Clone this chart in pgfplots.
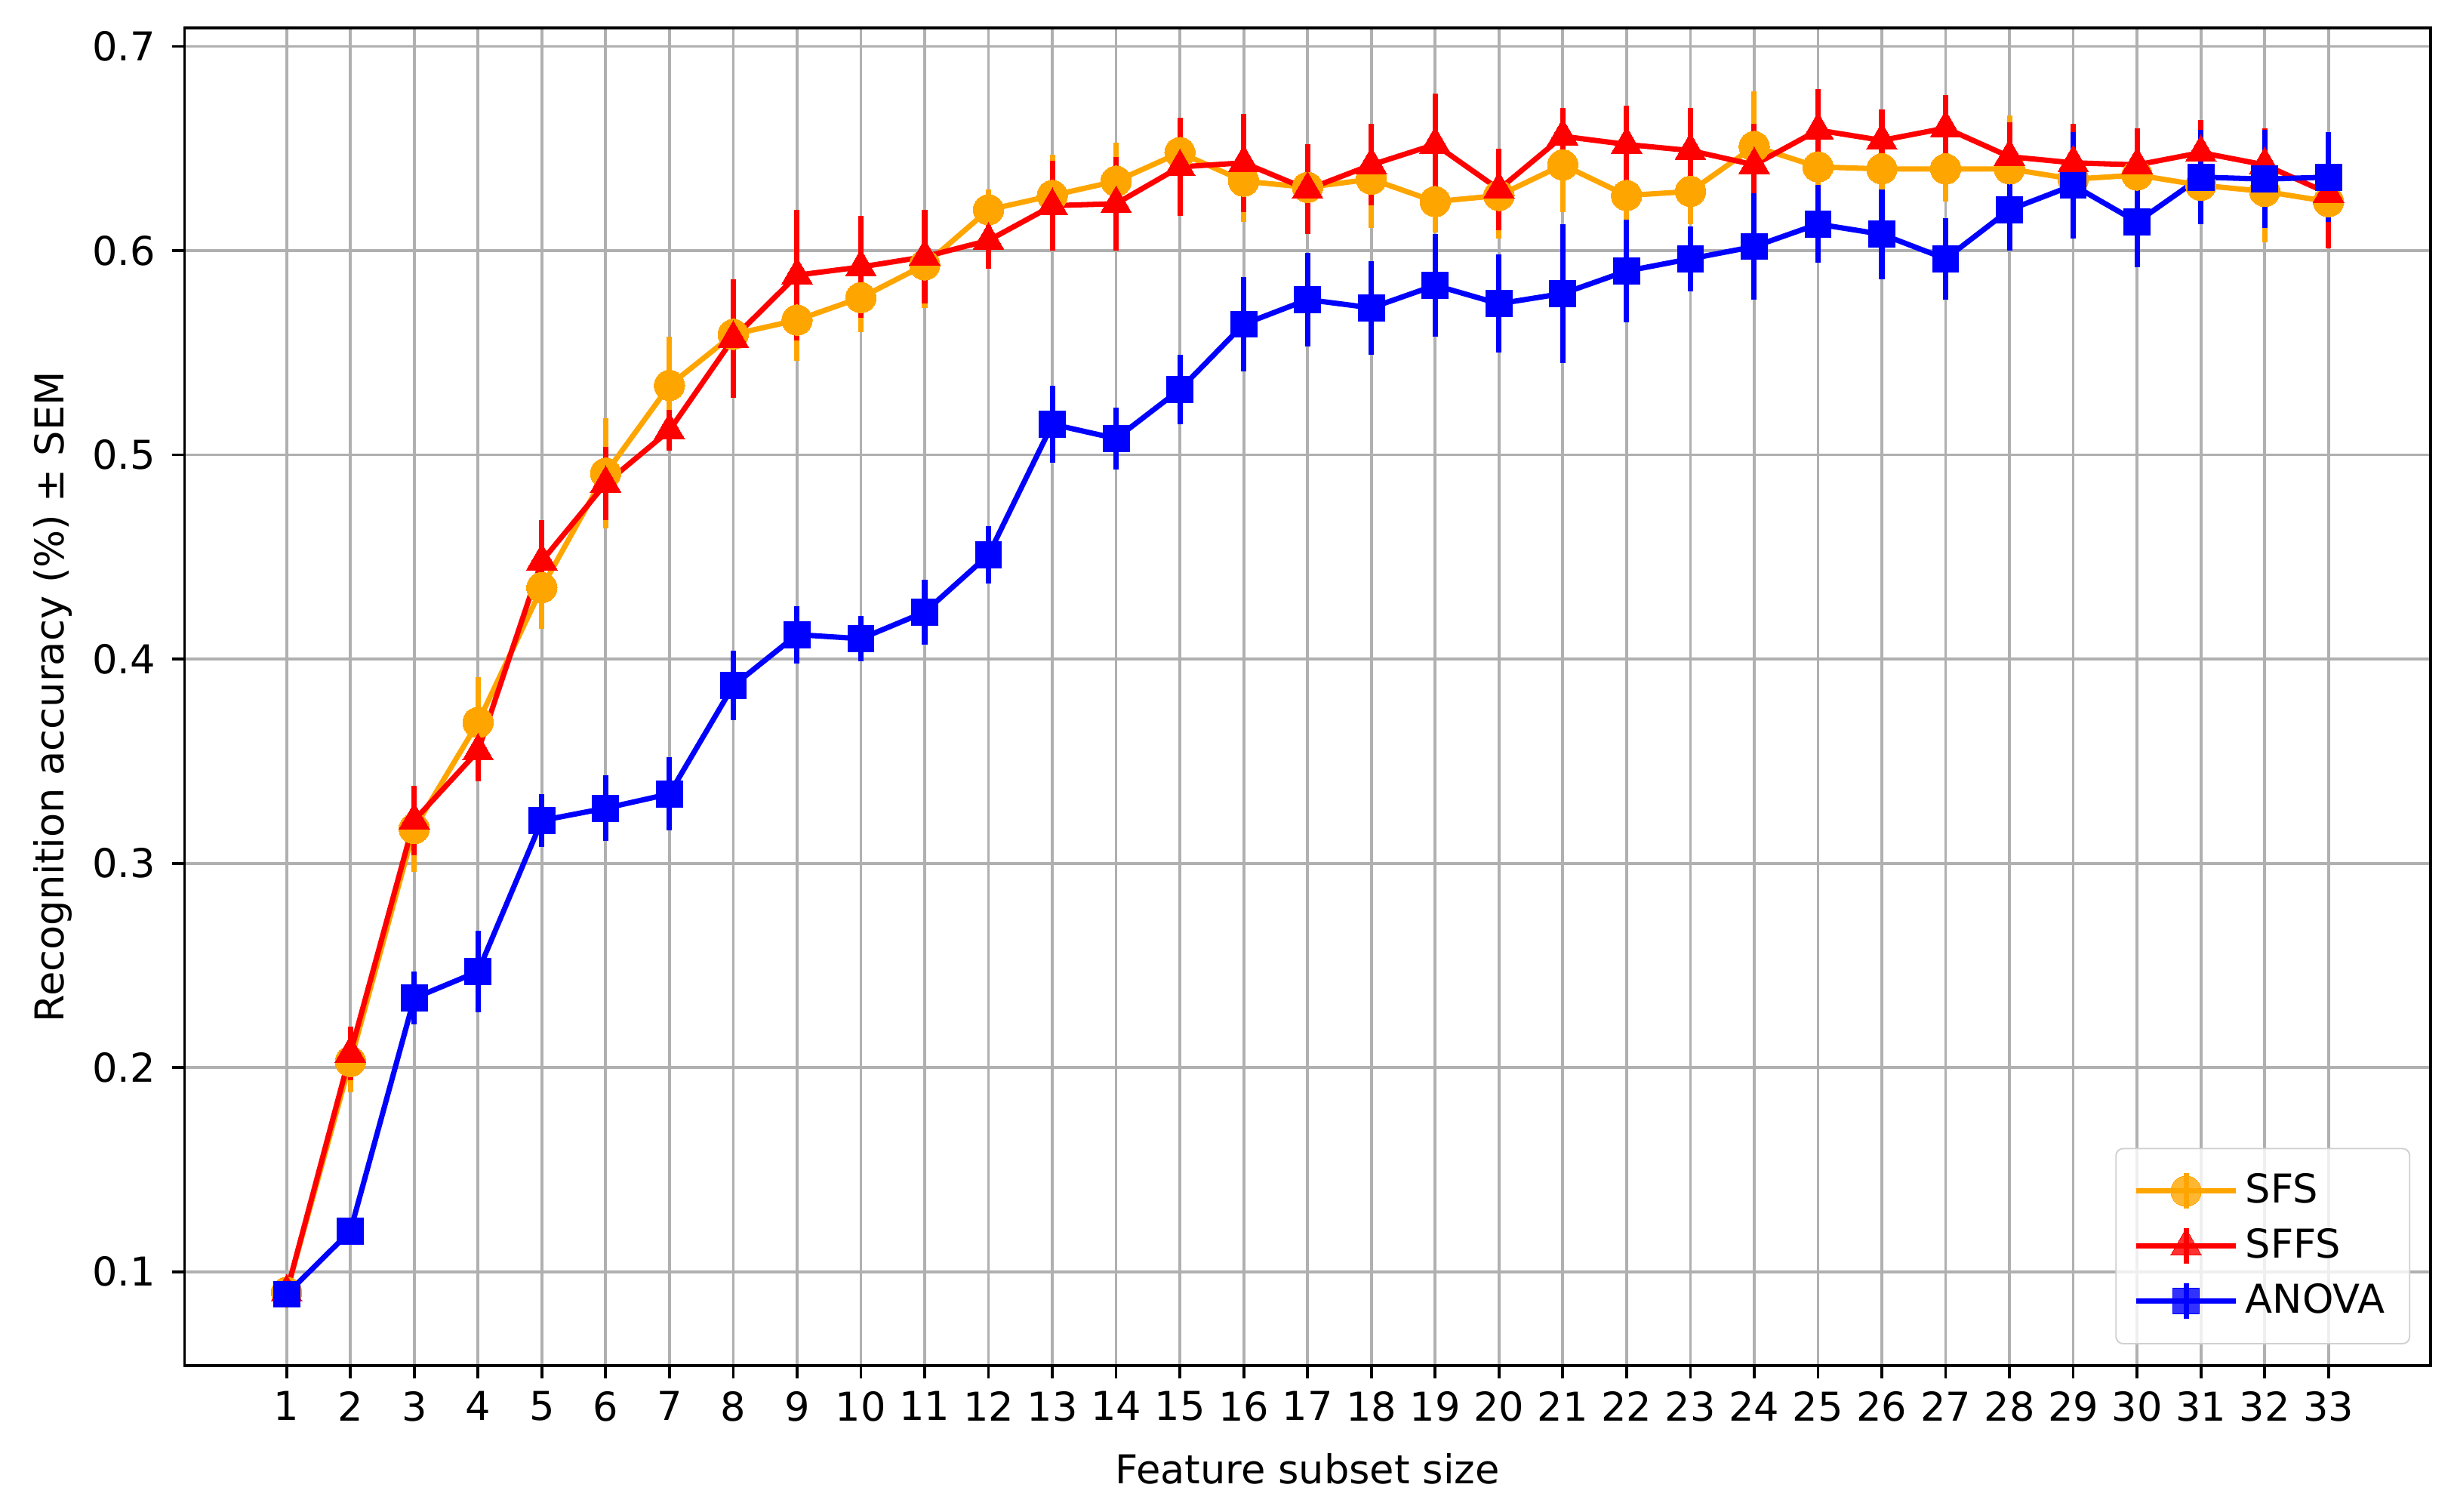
\documentclass[border=0pt]{standalone}
\usepackage{fontspec}
\setmainfont{DejaVu Sans}
\usepackage{pgfplots}
\usepackage{pgfplotstable}
\pgfplotsset{compat=1.18}

\definecolor{gridgray}{HTML}{B0B0B0}
\definecolor{sfsorange}{HTML}{FFA500}
\definecolor{sffsred}{HTML}{FF0000}
\definecolor{anovablue}{HTML}{0000FF}

% x  mean  sem
\pgfplotstableread{
x y e
1 0.090 0.000
2 0.203 0.015
3 0.317 0.021
4 0.369 0.022
5 0.435 0.020
6 0.491 0.027
7 0.534 0.024
8 0.559 0.022
9 0.566 0.020
10 0.577 0.017
11 0.593 0.021
12 0.620 0.010
13 0.627 0.020
14 0.634 0.019
15 0.648 0.017
16 0.634 0.020
17 0.631 0.020
18 0.635 0.024
19 0.624 0.015
20 0.627 0.021
21 0.642 0.023
22 0.627 0.016
23 0.629 0.016
24 0.651 0.027
25 0.641 0.018
26 0.640 0.016
27 0.640 0.016
28 0.640 0.026
29 0.635 0.020
30 0.637 0.018
31 0.632 0.018
32 0.629 0.025
33 0.624 0.016
}\sfs

\pgfplotstableread{
x y e
1 0.090 0.000
2 0.207 0.013
3 0.321 0.017
4 0.355 0.015
5 0.448 0.020
6 0.486 0.018
7 0.512 0.010
8 0.557 0.029
9 0.588 0.032
10 0.592 0.025
11 0.597 0.023
12 0.605 0.014
13 0.622 0.022
14 0.623 0.023
15 0.641 0.024
16 0.643 0.024
17 0.630 0.022
18 0.642 0.020
19 0.652 0.025
20 0.630 0.020
21 0.656 0.014
22 0.652 0.019
23 0.649 0.021
24 0.642 0.020
25 0.659 0.020
26 0.654 0.015
27 0.660 0.016
28 0.646 0.017
29 0.643 0.019
30 0.642 0.018
31 0.648 0.016
32 0.642 0.018
33 0.628 0.027
}\sffs

\pgfplotstableread{
x y e
1 0.089 0.000
2 0.120 0.000
3 0.234 0.013
4 0.247 0.020
5 0.321 0.013
6 0.327 0.016
7 0.334 0.018
8 0.387 0.017
9 0.412 0.014
10 0.410 0.011
11 0.423 0.016
12 0.451 0.014
13 0.515 0.019
14 0.508 0.015
15 0.532 0.017
16 0.564 0.023
17 0.576 0.023
18 0.572 0.023
19 0.583 0.025
20 0.574 0.024
21 0.579 0.034
22 0.590 0.025
23 0.596 0.016
24 0.602 0.026
25 0.613 0.019
26 0.608 0.022
27 0.596 0.020
28 0.620 0.020
29 0.632 0.026
30 0.614 0.022
31 0.636 0.023
32 0.635 0.024
33 0.636 0.022
}\anova

\begin{document}
\fontsize{11.2}{13.4}\selectfont
\begin{tikzpicture}
\useasboundingbox (-52pt,-41pt) rectangle (639.6pt,384.9pt);
\begin{axis}[
    at={(0,0)}, anchor=south west,
    scale only axis,
    width=633pt, height=377pt,
    xmin=-0.6, xmax=34.6,
    ymin=0.054, ymax=0.709,
    xtick={1,...,33},
    ytick={0.1,0.2,0.3,0.4,0.5,0.6,0.7},
    /pgf/number format/assume math mode=true,
    tick pos=left,
    tick align=outside,
    major tick length=3.5pt,
    every tick/.style={black, line width=0.8pt},
    axis line style={black, line width=0.8pt},
    grid=major,
    major grid style={gridgray, line width=0.8pt},
    xticklabel style={anchor=north, inner sep=0pt, yshift=-3.5pt},
    yticklabel style={anchor=east, inner sep=0pt, xshift=-4.5pt,
        /pgf/number format/fixed, /pgf/number format/fixed zerofill,
        /pgf/number format/precision=1},
    xlabel={Feature subset size},
    ylabel={Recognition accuracy (\%) ± SEM},
    every axis x label/.style={at={(axis description cs:0.5,-0.077)}, anchor=center},
    every axis y label/.style={at={(axis description cs:-0.0585,0.5)}, anchor=center, rotate=90},
    legend style={at={(axis description cs:0.991,0.016)}, anchor=south east,
        draw=gridgray!60, fill=white, fill opacity=0.8, text opacity=1,
        rounded corners=2pt, row sep=1.5pt, inner xsep=5pt, inner ysep=5pt},
    legend cell align=left,
    legend image code/.code={
        \draw[mark repeat=2,mark phase=2] plot coordinates {(0pt,0pt) (14pt,0pt) (28pt,0pt)};
        \draw[mark=none, line width=1.5pt] (14pt,-5pt) -- (14pt,5pt);
    },
    error bars/y dir=both,
    error bars/y explicit,
    error bars/error mark=none,
]
\addplot[sfsorange, line width=1.5pt, mark=*, mark size=4.3pt,
    mark options={solid, fill=sfsorange, draw=sfsorange, line width=0pt},
    error bars/error bar style={sfsorange, line width=1.5pt}]
    table[x=x, y=y, y error=e] {\sfs};
\addlegendentry{SFS}
\addplot[sffsred, line width=1.5pt, mark=triangle*, mark size=5pt,
    mark options={solid, fill=sffsred, draw=sffsred, line width=0pt},
    error bars/error bar style={sffsred, line width=1.5pt}]
    table[x=x, y=y, y error=e] {\sffs};
\addlegendentry{SFFS}
\addplot[anovablue, line width=1.5pt, mark=square*, mark size=3.7pt,
    mark options={solid, fill=anovablue, draw=anovablue, line width=0pt},
    error bars/error bar style={anovablue, line width=1.5pt}]
    table[x=x, y=y, y error=e] {\anova};
\addlegendentry{ANOVA}
\end{axis}
\end{tikzpicture}
\end{document}
